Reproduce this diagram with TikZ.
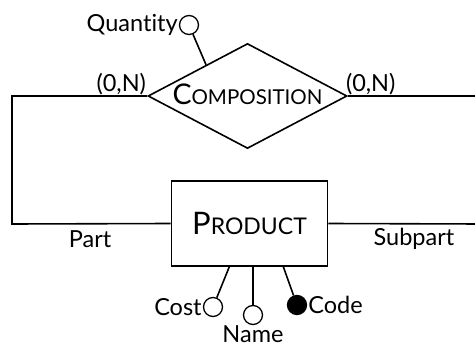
\documentclass[tikz,border=0pt]{standalone}
\usepackage{fontspec}
\setmainfont{Lato}[Ligatures = NoCommon]
\usetikzlibrary{shapes.geometric}
% big first letter, smaller capitals after it
\newcommand{\fakesc}[4]{{\fontsize{#1}{#1}\selectfont #3}{\fontsize{#2}{#2}\selectfont #4}}
\tikzstyle{relShape}=[shape = diamond, draw, line width = 1.6pt, aspect = 1.9, minimum width = 199pt, minimum height = 105pt, inner sep = 0pt]
\tikzstyle{entShape}=[shape = rectangle, draw, line width = 1.6pt, minimum width = 156pt, minimum height = 85pt, inner sep = 0pt]
\tikzstyle{attrOpen}=[shape = circle, minimum size = 19pt, inner sep = 0pt, line width = 1.3pt, draw, fill = white]
\tikzstyle{attrKey}=[attrOpen, fill = black]

\begin{document}
\begin{tikzpicture}[x = 1pt, y = -1pt, font = \fontsize{23.5}{28}\selectfont]
\tikzstyle{lineStyle} = [line width = 1.6pt]
\tikzstyle{tagStyle} = [inner sep = 1pt]
\clip (0,0) rectangle (475,348);
\node[relShape] (comp) at (247.5,96) {\raisebox{3pt}{\fakesc{28.5}{20.5}{C}{OMPOSITION}}};
\node[entShape] (prod) at (249.5,223.5) {\raisebox{-2pt}{\fakesc{31}{23}{P}{RODUCT}}};
\coordinate (lt) at (12,96);
\coordinate (lb) at (12,224);
\coordinate (rt) at (482,96);
\coordinate (rb) at (482,224);
\node[attrOpen, label = {[tagStyle]left:Quantity}] (qty) at (189,25) {};
\node[attrOpen, label = {[tagStyle]left:Cost}] (cost) at (213,307) {};
\node[attrOpen, label = {[inner sep = 0pt]below:Name}] (name) at (253,315) {};
\node[attrKey, label = {[tagStyle]right:Code}] (code) at (297,305) {};
\node[tagStyle, anchor = south east] (cardL) at (comp.west) {(0,N)};
\node[tagStyle, anchor = south west, xshift = -3pt] (cardR) at (comp.east) {(0,N)};
\node (part) at (90,239) {Part};
\node (subpart) at (414,239) {Subpart};
\draw[lineStyle] (comp.west) -- (lt) -- (lb) -- (prod.west);
\draw[lineStyle] (comp.east) -- (rt) -- (rb) -- (prod.east);
\draw[lineStyle] (qty) -- (comp.143);
\draw[lineStyle] (cost) -- (prod.245);
\draw[lineStyle] (name) -- (name |- prod.south);
\draw[lineStyle] (code) -- (prod.308);
\end{tikzpicture}
\end{document}
